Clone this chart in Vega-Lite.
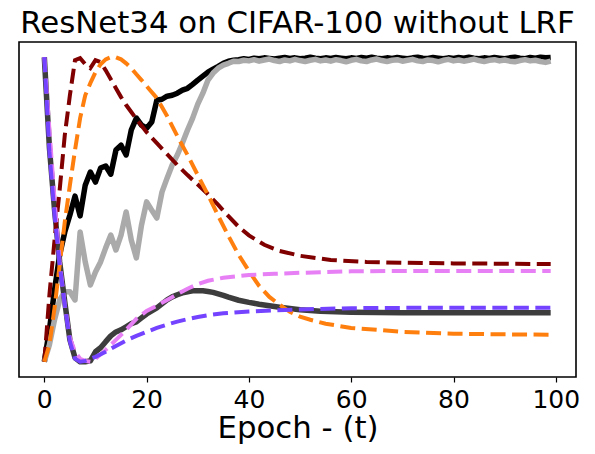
{
  "$schema": "https://vega.github.io/schema/vega-lite/v6.json",
  "width": 557,
  "height": 335,
  "autosize": "none",
  "padding": {"left": 19, "top": 42, "right": 19, "bottom": 77},
  "background": "white",
  "config": {
    "view": {"stroke": "black", "strokeWidth": 1.6},
    "font": "DejaVu Sans"
  },
  "title": {
    "text": "ResNet34 on CIFAR-100 without LRF",
    "fontSize": 30.8,
    "fontWeight": "normal",
    "font": "DejaVu Sans",
    "color": "black",
    "anchor": "middle",
    "baseline": "alphabetic",
    "offset": -22
  },
  "datasets": {
    "black": [
      {"t":0,"v":0},{"t":1,"v":0.105},{"t":2,"v":0.236},{"t":3,"v":0.351},{"t":4,"v":0.426},{"t":5,"v":0.482},{"t":6,"v":0.544},{"t":7,"v":0.479},{"t":8,"v":0.58},{"t":9,"v":0.623},{"t":10,"v":0.59},{"t":11,"v":0.636},{"t":12,"v":0.643},{"t":13,"v":0.616},{"t":14,"v":0.695},{"t":15,"v":0.711},{"t":16,"v":0.679},{"t":17,"v":0.761},{"t":18,"v":0.8},{"t":19,"v":0.777},{"t":20,"v":0.767},{"t":21,"v":0.787},{"t":22,"v":0.859},{"t":23,"v":0.862},{"t":24,"v":0.872},{"t":25,"v":0.875},{"t":26,"v":0.882},{"t":27,"v":0.892},{"t":28,"v":0.898},{"t":29,"v":0.911},{"t":30,"v":0.925},{"t":31,"v":0.938},{"t":32,"v":0.951},{"t":33,"v":0.961},{"t":34,"v":0.97},{"t":35,"v":0.98},{"t":36,"v":0.987},{"t":37,"v":0.99},
      {"t":38,"v":0.992},{"t":39,"v":0.995},{"t":40,"v":0.993},{"t":41,"v":0.997},{"t":42,"v":0.995},{"t":43,"v":0.998},{"t":44,"v":0.996},{"t":45,"v":0.994},{"t":46,"v":0.997},{"t":47,"v":0.999},{"t":48,"v":0.996},{"t":49,"v":0.998},{"t":50,"v":0.995},{"t":51,"v":0.997},{"t":52,"v":1.0},{"t":53,"v":0.997},{"t":54,"v":0.995},{"t":55,"v":0.998},{"t":56,"v":0.996},{"t":57,"v":0.999},{"t":58,"v":0.997},{"t":59,"v":0.995},{"t":60,"v":0.998},{"t":61,"v":0.996},{"t":62,"v":0.999},{"t":63,"v":0.997},{"t":64,"v":1.0},{"t":65,"v":0.997},{"t":66,"v":0.995},{"t":67,"v":0.998},{"t":68,"v":0.996},{"t":69,"v":0.999},{"t":70,"v":0.997},{"t":71,"v":0.995},{"t":72,"v":0.998},{"t":73,"v":1.0},{"t":74,"v":0.997},{"t":75,"v":0.996},{"t":76,"v":0.999},{"t":77,"v":0.997},{"t":78,"v":0.995},{"t":79,"v":0.998},{"t":80,"v":0.996},{"t":81,"v":0.999},{"t":82,"v":0.997},{"t":83,"v":1.0},{"t":84,"v":0.997},{"t":85,"v":0.995},{"t":86,"v":0.998},{"t":87,"v":0.996},{"t":88,"v":0.999},{"t":89,"v":0.997},{"t":90,"v":0.995},{"t":91,"v":0.998},{"t":92,"v":1.0},{"t":93,"v":0.997},{"t":94,"v":0.995},{"t":95,"v":0.999},{"t":96,"v":0.997},{"t":97,"v":1.0},{"t":98,"v":0.998},{"t":99,"v":0.999}
    ],
    "gray": [
      {"t":0,"v":0},{"t":1,"v":0.056},{"t":2,"v":0.138},{"t":3,"v":0.203},{"t":4,"v":0.23},{"t":5,"v":0.23},{"t":6,"v":0.203},{"t":7,"v":0.426},{"t":8,"v":0.328},{"t":9,"v":0.252},{"t":10,"v":0.295},{"t":11,"v":0.328},{"t":12,"v":0.374},{"t":13,"v":0.416},{"t":14,"v":0.367},{"t":15,"v":0.416},{"t":16,"v":0.492},{"t":17,"v":0.4},{"t":18,"v":0.341},{"t":19,"v":0.449},{"t":20,"v":0.525},{"t":21,"v":0.498},{"t":22,"v":0.472},{"t":23,"v":0.557},{"t":24,"v":0.603},{"t":25,"v":0.646},{"t":26,"v":0.679},{"t":27,"v":0.718},{"t":28,"v":0.761},{"t":29,"v":0.8},{"t":30,"v":0.846},{"t":31,"v":0.882},{"t":32,"v":0.925},{"t":33,"v":0.948},{"t":34,"v":0.964},{"t":35,"v":0.974},{"t":36,"v":0.98},{"t":37,"v":0.987},
      {"t":38,"v":0.986},{"t":39,"v":0.99},{"t":40,"v":0.988},{"t":41,"v":0.992},{"t":42,"v":0.987},{"t":43,"v":0.991},{"t":44,"v":0.994},{"t":45,"v":0.989},{"t":46,"v":0.986},{"t":47,"v":0.991},{"t":48,"v":0.988},{"t":49,"v":0.993},{"t":50,"v":0.989},{"t":51,"v":0.986},{"t":52,"v":0.99},{"t":53,"v":0.993},{"t":54,"v":0.988},{"t":55,"v":0.991},{"t":56,"v":0.987},{"t":57,"v":0.992},{"t":58,"v":0.989},{"t":59,"v":0.985},{"t":60,"v":0.99},{"t":61,"v":0.993},{"t":62,"v":0.988},{"t":63,"v":0.986},{"t":64,"v":0.991},{"t":65,"v":0.994},{"t":66,"v":0.989},{"t":67,"v":0.986},{"t":68,"v":0.99},{"t":69,"v":0.992},{"t":70,"v":0.987},{"t":71,"v":0.99},{"t":72,"v":0.993},{"t":73,"v":0.988},{"t":74,"v":0.986},{"t":75,"v":0.991},{"t":76,"v":0.989},{"t":77,"v":0.985},{"t":78,"v":0.99},{"t":79,"v":0.993},{"t":80,"v":0.988},{"t":81,"v":0.991},{"t":82,"v":0.987},{"t":83,"v":0.99},{"t":84,"v":0.994},{"t":85,"v":0.989},{"t":86,"v":0.986},{"t":87,"v":0.99},{"t":88,"v":0.992},{"t":89,"v":0.988},{"t":90,"v":0.991},{"t":91,"v":0.987},{"t":92,"v":0.985},{"t":93,"v":0.989},{"t":94,"v":0.992},{"t":95,"v":0.988},{"t":96,"v":0.99},{"t":97,"v":0.986},{"t":98,"v":0.983},{"t":99,"v":0.987}
    ],
    "darkgray": [
      {"t":0,"v":1.0},{"t":1,"v":0.702},{"t":2,"v":0.498},{"t":3,"v":0.328},{"t":4,"v":0.197},{"t":5,"v":0.072},{"t":6,"v":0.013},{"t":7,"v":0.0},{"t":8,"v":0.0},{"t":9,"v":0.003},{"t":10,"v":0.033},{"t":11,"v":0.046},{"t":12,"v":0.066},{"t":13,"v":0.085},{"t":14,"v":0.098},{"t":15,"v":0.105},{"t":16,"v":0.115},{"t":17,"v":0.125},{"t":18,"v":0.131},{"t":19,"v":0.144},{"t":20,"v":0.157},{"t":21,"v":0.167},{"t":22,"v":0.177},{"t":23,"v":0.19},{"t":24,"v":0.203},{"t":25,"v":0.213},{"t":26,"v":0.22},{"t":27,"v":0.226},{"t":28,"v":0.23},{"t":29,"v":0.233},{"t":30,"v":0.233},{"t":31,"v":0.233},{"t":32,"v":0.231},{"t":33,"v":0.228},{"t":34,"v":0.223},{"t":35,"v":0.218},{"t":36,"v":0.212},{"t":38,"v":0.202},{"t":40,"v":0.195},{"t":42,"v":0.189},{"t":44,"v":0.184},{"t":46,"v":0.179},{"t":48,"v":0.175},{"t":50,"v":0.171},{"t":54,"v":0.166},{"t":60,"v":0.163},{"t":70,"v":0.161},{"t":80,"v":0.161},{"t":99,"v":0.161}
    ],
    "darkred": [
      {"t":0,"v":0},{"t":1,"v":0.22},{"t":2,"v":0.4},{"t":3,"v":0.564},{"t":4,"v":0.744},{"t":5,"v":0.875},{"t":6,"v":0.99},{"t":7,"v":0.997},{"t":8,"v":0.977},{"t":9,"v":0.964},{"t":10,"v":0.99},{"t":11,"v":0.984},{"t":12,"v":0.957},{"t":13,"v":0.928},{"t":14,"v":0.898},{"t":15,"v":0.869},{"t":16,"v":0.843},{"t":17,"v":0.82},{"t":18,"v":0.797},{"t":20,"v":0.754},{"t":22,"v":0.718},{"t":24,"v":0.682},{"t":26,"v":0.646},{"t":28,"v":0.613},{"t":30,"v":0.582},{"t":32,"v":0.55},{"t":34,"v":0.515},{"t":36,"v":0.478},{"t":38,"v":0.443},{"t":40,"v":0.415},{"t":43,"v":0.384},{"t":46,"v":0.364},{"t":50,"v":0.348},{"t":56,"v":0.334},{"t":63,"v":0.328},{"t":70,"v":0.325},{"t":80,"v":0.323},{"t":99,"v":0.321}
    ],
    "orange": [
      {"t":0,"v":0},{"t":1,"v":0.056},{"t":2,"v":0.177},{"t":3,"v":0.318},{"t":4,"v":0.459},{"t":5,"v":0.58},{"t":6,"v":0.695},{"t":7,"v":0.8},{"t":8,"v":0.875},{"t":9,"v":0.915},{"t":10,"v":0.951},{"t":11,"v":0.977},{"t":12,"v":0.993},{"t":13,"v":1.0},{"t":14,"v":1.0},{"t":15,"v":0.993},{"t":16,"v":0.98},{"t":17,"v":0.964},{"t":18,"v":0.944},{"t":19,"v":0.925},{"t":20,"v":0.905},{"t":22,"v":0.866},{"t":24,"v":0.807},{"t":26,"v":0.741},{"t":28,"v":0.679},{"t":30,"v":0.613},{"t":32,"v":0.548},{"t":34,"v":0.479},{"t":36,"v":0.413},{"t":38,"v":0.351},{"t":40,"v":0.298},{"t":42,"v":0.249},{"t":44,"v":0.213},{"t":46,"v":0.187},{"t":48,"v":0.164},{"t":50,"v":0.148},{"t":52,"v":0.138},{"t":55,"v":0.125},{"t":60,"v":0.111},{"t":65,"v":0.105},{"t":70,"v":0.098},{"t":80,"v":0.092},{"t":90,"v":0.09},{"t":99,"v":0.089}
    ],
    "violet": [
      {"t":0,"v":1.0},{"t":1,"v":0.761},{"t":2,"v":0.531},{"t":3,"v":0.328},{"t":4,"v":0.187},{"t":5,"v":0.079},{"t":6,"v":0.033},{"t":7,"v":0.01},{"t":8,"v":0.003},{"t":9,"v":0.0},{"t":10,"v":0.01},{"t":12,"v":0.039},{"t":14,"v":0.072},{"t":16,"v":0.105},{"t":18,"v":0.141},{"t":20,"v":0.167},{"t":22,"v":0.184},{"t":24,"v":0.203},{"t":26,"v":0.222},{"t":28,"v":0.24},{"t":30,"v":0.255},{"t":32,"v":0.266},{"t":35,"v":0.276},{"t":40,"v":0.285},{"t":45,"v":0.289},{"t":50,"v":0.292},{"t":60,"v":0.297},{"t":70,"v":0.298},{"t":99,"v":0.298}
    ],
    "purple": [
      {"t":0,"v":1.0},{"t":1,"v":0.689},{"t":2,"v":0.482},{"t":3,"v":0.318},{"t":4,"v":0.187},{"t":5,"v":0.066},{"t":6,"v":0.01},{"t":7,"v":0.0},{"t":8,"v":0.003},{"t":9,"v":0.01},{"t":10,"v":0.016},{"t":12,"v":0.033},{"t":14,"v":0.052},{"t":16,"v":0.07},{"t":18,"v":0.085},{"t":20,"v":0.098},{"t":22,"v":0.111},{"t":24,"v":0.122},{"t":26,"v":0.132},{"t":28,"v":0.14},{"t":30,"v":0.147},{"t":32,"v":0.153},{"t":35,"v":0.159},{"t":40,"v":0.165},{"t":45,"v":0.169},{"t":50,"v":0.172},{"t":60,"v":0.176},{"t":70,"v":0.177},{"t":99,"v":0.177}
    ]
  },
  "encoding": {
    "x": {
      "field": "t", "type": "quantitative",
      "scale": {"domain": [-4.95, 103.95], "nice": false, "zero": false},
      "axis": {
        "title": "Epoch - (t)", "values": [0, 20, 40, 60, 80, 100],
        "grid": false, "domain": false,
        "tickColor": "black", "tickSize": 5, "tickWidth": 1.2,
        "labelFontSize": 25, "labelColor": "black", "labelFont": "DejaVu Sans", "labelPadding": 5,
        "titleFontSize": 30.8, "titleColor": "black", "titleFont": "DejaVu Sans", "titleFontWeight": "normal", "titlePadding": 1
      }
    },
    "y": {
      "field": "v", "type": "quantitative",
      "scale": {"domain": [-0.05, 1.05], "nice": false, "zero": false},
      "axis": null
    }
  },
  "layer": [
    {"data": {"name": "black"}, "mark": {"type": "line", "color": "black", "strokeWidth": 5.5, "strokeJoin": "round"}},
    {"data": {"name": "gray"}, "mark": {"type": "line", "color": "#aaaaaa", "strokeWidth": 5.5, "strokeJoin": "round"}},
    {"data": {"name": "darkgray"}, "mark": {"type": "line", "color": "#3d3d3d", "strokeWidth": 5.5, "strokeJoin": "round"}},
    {"data": {"name": "darkred"}, "mark": {"type": "line", "color": "#800000", "strokeWidth": 4, "strokeDash": [15, 6.5], "strokeCap": "butt"}},
    {"data": {"name": "orange"}, "mark": {"type": "line", "color": "#ff7f0e", "strokeWidth": 4, "strokeDash": [15, 6.5], "strokeCap": "butt"}},
    {"data": {"name": "violet"}, "mark": {"type": "line", "color": "#e77ff5", "strokeWidth": 4, "strokeDash": [15, 6.5], "strokeCap": "butt"}},
    {"data": {"name": "purple"}, "mark": {"type": "line", "color": "#7443ff", "strokeWidth": 4, "strokeDash": [15, 6.5], "strokeCap": "butt"}}
  ]
}
